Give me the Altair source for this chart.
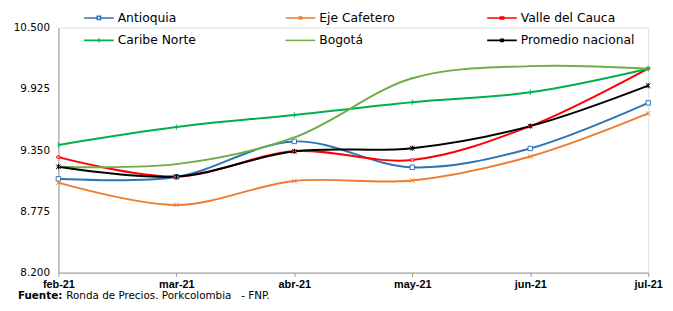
import altair as alt
import pandas as pd

months = ["feb-21", "mar-21", "abr-21", "may-21", "jun-21", "jul-21"]
series = ["Antioquia", "Eje Cafetero", "Valle del Cauca", "Caribe Norte", "Bogotá", "Promedio nacional"]
antioquia = [9080, 9098, 9431, 9188, 9365, 9793]
eje_cafetero = [9044, 8835, 9060, 9065, 9290, 9694]
valle = [9284, 9101, 9338, 9257, 9575, 10116]
caribe = [9398, 9566, 9680, 9799, 9892, 10114]
bogota = [9194, 9218, 9469, 10024, 10138, 10114]
promedio = [9194, 9101, 9338, 9368, 9575, 9955]
y_ticks = [8200, 8775, 9350, 9925, 10500]

colors = ["#2E75B6", "#ED7D31", "#FF0000", "#00B050", "#70AD47", "#000000"]
marker_paths = [
    "M-1,-1H1V1H-1Z",
    "M-1,-1L1,1M-1,1L1,-1",
    "M-0.7,-0.5H0.7V0.5H-0.7Z",
    "M0,-1.2L0,1.2",
    "M-1,0L1,0",
    "M-1,-1L1,1M-1,1L1,-1M0,-1.2L0,1.2",
]
k = 0.11
legend_paths = [
    f"M-1,0H-{k}M{k},0H1M-{k},-{k}H{k}V{k}H-{k}Z",
    f"M-1,0H1M-{k},-{k}L{k},{k}M-{k},{k}L{k},-{k}",
    f"M-1,0H1M-{k},-{k*0.6}H{k}V{k*0.6}H-{k}Z",
    f"M-1,0H1M0,-{k*1.2}L0,{k*1.2}",
    "M-1,0H1",
    f"M-1,0H1M-{k},-{k}L{k},{k}M-{k},{k}L{k},-{k}M0,-{k*1.2}L0,{k*1.2}",
]

rows = []
for name, vals in zip(series, [antioquia, eje_cafetero, valle, caribe, bogota, promedio]):
    for m, v in zip(months, vals):
        rows.append({"serie": name, "s2": name, "s3": name, "mes": m, "valor": v})
df = pd.DataFrame(rows)

W, H = 597, 248
FONT = "Liberation Sans"
WIDE = "DejaVu Sans"

x = alt.X("mes:O", sort=months, scale=alt.Scale(type="point", padding=0),
          axis=alt.Axis(title=None, labelAngle=0, labelFont=FONT, labelFontSize=11,
                        labelFontWeight="bold", labelColor="#000000", domainColor="#999999",
                        tickColor="#999999", tickSize=4, labelPadding=2, grid=False))
y = alt.Y("valor:Q", scale=alt.Scale(domain=[8200, 10500], nice=False, zero=False),
          axis=alt.Axis(title=None, values=y_ticks, grid=False, ticks=False,
                        labelExpr="replace(format(datum.value, ',.0f'), ',', '.')",
                        labelFont=WIDE, labelFontSize=10.5, labelColor="#000000",
                        domainColor="#999999", labelPadding=9))

lines = alt.Chart(df).mark_line(interpolate="catmull-rom", strokeWidth=2).encode(
    x=x, y=y,
    color=alt.Color("serie:N", scale=alt.Scale(domain=series, range=colors), legend=None),
    detail="serie:N")
points = alt.Chart(df).mark_point(filled=False, fill="white", size=20, strokeWidth=1, opacity=1).encode(
    x=x, y=y,
    color=alt.Color("s2:N", scale=alt.Scale(domain=series, range=colors), legend=None),
    shape=alt.Shape("s2:N", scale=alt.Scale(domain=series, range=marker_paths), legend=None))
leg = alt.Chart(df).mark_point(filled=False, opacity=0, size=20).encode(
    x=x, y=y,
    color=alt.Color("s3:N", sort=series, scale=alt.Scale(domain=series, range=colors),
                    legend=alt.Legend(title=None, orient="none", legendX=25, legendY=-26,
                                      columns=3, direction="horizontal",
                                      symbolSize=900, symbolStrokeWidth=1.6, symbolOpacity=1,
                                      symbolFillColor="white",
                                      labelFont=WIDE, labelFontSize=12.5, labelColor="#000000",
                                      gridAlign="all", columnPadding=50, rowPadding=-11,
                                      labelOffset=3)),
    shape=alt.Shape("s3:N", sort=series, scale=alt.Scale(domain=series, range=legend_paths)))

src1 = alt.Chart(pd.DataFrame({"t": ["Fuente:"]})).mark_text(
    align="left", baseline="alphabetic", font=WIDE, fontSize=10.5, fontWeight="bold",
    color="#000000").encode(text="t:N", x=alt.value(-41), y=alt.value(H + 27))
src2 = alt.Chart(pd.DataFrame({"t": ["Ronda de Precios. Porkcolombia\u00a0\u00a0\u00a0- FNP."]})).mark_text(
    align="left", baseline="alphabetic", font=WIDE, fontSize=10.5, color="#000000").encode(
    text="t:N", x=alt.value(8), y=alt.value(H + 27))

chart = alt.layer(lines, points, leg, src1, src2).resolve_scale(
    color="independent", shape="independent"
).properties(
    width=W, height=H,
    autosize=alt.AutoSizeParams(type="none"),
    padding={"left": 51, "top": 18, "right": 17, "bottom": 29},
).configure_view(stroke=None).configure(background="white")

chart.save("out.html", embed_options={"renderer": "svg", "actions": False})
